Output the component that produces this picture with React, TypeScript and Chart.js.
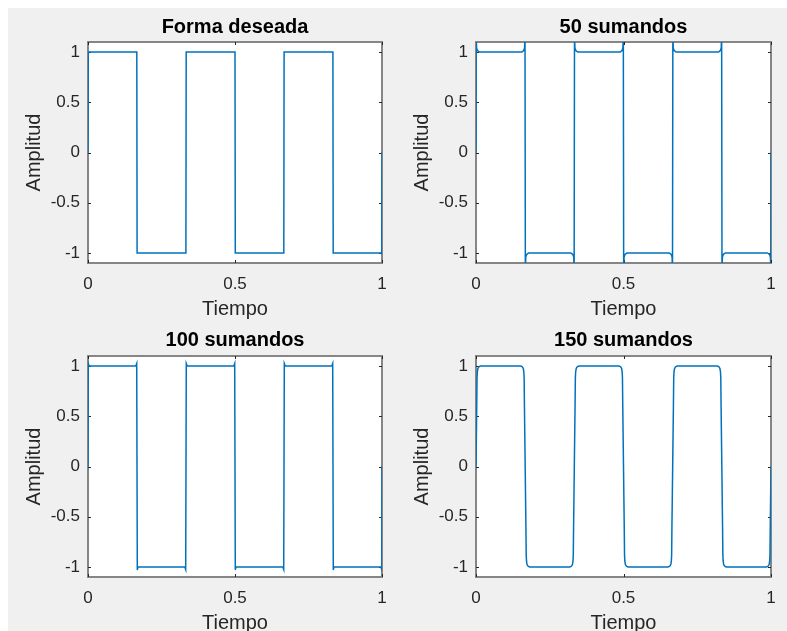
import React, { useEffect, useRef } from "react";
import Chart from "chart.js/auto";

// ---- data ----
const xTickValues = [0, 0.5, 1];
const xTickLabels = ["0", "0.5", "1"];
const yTickValues = [-1, -0.5, 0, 0.5, 1];
const yTickLabels = ["-1", "-0.5", "0", "0.5", "1"];

const titles = ["Forma deseada", "50 sumandos", "100 sumandos", "150 sumandos"];

// Forma deseada (ideal square wave)
const tDeseada = [0, 0.001, 0.166, 0.167, 0.333, 0.334, 0.5, 0.501, 0.666, 0.667, 0.833, 0.834, 0.999, 1];
const yDeseada = [0, 1, 1, -1, -1, 1, 1, -1, -1, 1, 1, -1, -1, 0];

// 50 sumandos (Gibbs overshoot reaching beyond the axis limits)
const t50 = [
  0, 0.0006, 0.002, 0.005, 0.012,
  0.1547, 0.1617, 0.1647, 0.1661, 0.1673, 0.1687, 0.1717, 0.1787,
  0.3213, 0.3283, 0.3313, 0.3327, 0.3339, 0.3353, 0.3383, 0.3453,
  0.488, 0.495, 0.498, 0.4994, 0.5006, 0.502, 0.505, 0.512,
  0.6547, 0.6617, 0.6647, 0.6661, 0.6673, 0.6687, 0.6717, 0.6787,
  0.8213, 0.8283, 0.8313, 0.8327, 0.8339, 0.8353, 0.8383, 0.8453,
  0.988, 0.995, 0.998, 0.9994, 1,
];
const y50 = [
  0, 1.18, 1.04, 1.015, 1.0,
  1.0, 1.015, 1.04, 1.18, -1.18, -1.04, -1.015, -1.0,
  -1.0, -1.015, -1.04, -1.18, 1.18, 1.04, 1.015, 1.0,
  1.0, 1.015, 1.04, 1.18, -1.18, -1.04, -1.015, -1.0,
  -1.0, -1.015, -1.04, -1.18, 1.18, 1.04, 1.015, 1.0,
  1.0, 1.015, 1.04, 1.18, -1.18, -1.04, -1.015, -1.0,
  -1.0, -1.015, -1.04, -1.18, 0,
];

// 100 sumandos (small spikes at the corners)
const t100 = [
  0, 0.001, 0.004,
  0.1627, 0.1657, 0.1677, 0.1707,
  0.3293, 0.3323, 0.3343, 0.3373,
  0.496, 0.499, 0.501, 0.504,
  0.6627, 0.6657, 0.6677, 0.6707,
  0.8293, 0.8323, 0.8343, 0.8373,
  0.996, 0.999, 1,
];
const y100 = [
  0, 1.025, 1.0,
  1.0, 1.025, -1.025, -1.0,
  -1.0, -1.025, 1.025, 1.0,
  1.0, 1.025, -1.025, -1.0,
  -1.0, -1.025, 1.025, 1.0,
  1.0, 1.025, -1.025, -1.0,
  -1.0, -1.025, 0,
];

// 150 sumandos (rounded corners)
const t150 = [
  0, 0.0025, 0.0035, 0.0045, 0.006, 0.008, 0.011, 0.016,
  0.1507, 0.1557, 0.1587, 0.1607, 0.1622, 0.1632, 0.1642, 0.1692, 0.1702, 0.1712, 0.1727, 0.1747, 0.1777, 0.1827,
  0.3173, 0.3223, 0.3253, 0.3273, 0.3288, 0.3298, 0.3308, 0.3358, 0.3368, 0.3378, 0.3393, 0.3413, 0.3443, 0.3493,
  0.484, 0.489, 0.492, 0.494, 0.4955, 0.4965, 0.4975, 0.5025, 0.5035, 0.5045, 0.506, 0.508, 0.511, 0.516,
  0.6507, 0.6557, 0.6587, 0.6607, 0.6622, 0.6632, 0.6642, 0.6692, 0.6702, 0.6712, 0.6727, 0.6747, 0.6777, 0.6827,
  0.8173, 0.8223, 0.8253, 0.8273, 0.8288, 0.8298, 0.8308, 0.8358, 0.8368, 0.8378, 0.8393, 0.8413, 0.8443, 0.8493,
  0.984, 0.989, 0.992, 0.994, 0.9955, 0.9965, 0.9975, 1,
];
const y150 = [
  0, 0.6, 0.88, 0.94, 0.97, 0.985, 0.995, 1,
  1, 0.995, 0.985, 0.97, 0.94, 0.88, 0.6, -0.6, -0.88, -0.94, -0.97, -0.985, -0.995, -1,
  -1, -0.995, -0.985, -0.97, -0.94, -0.88, -0.6, 0.6, 0.88, 0.94, 0.97, 0.985, 0.995, 1,
  1, 0.995, 0.985, 0.97, 0.94, 0.88, 0.6, -0.6, -0.88, -0.94, -0.97, -0.985, -0.995, -1,
  -1, -0.995, -0.985, -0.97, -0.94, -0.88, -0.6, 0.6, 0.88, 0.94, 0.97, 0.985, 0.995, 1,
  1, 0.995, 0.985, 0.97, 0.94, 0.88, 0.6, -0.6, -0.88, -0.94, -0.97, -0.985, -0.995, -1,
  -1, -0.995, -0.985, -0.97, -0.94, -0.88, -0.6, 0,
];

const seriesT = [tDeseada, t50, t100, t150];
const seriesY = [yDeseada, y50, y100, y150];

const FONT = "'Liberation Sans', Arial, Helvetica, sans-serif";
const LINE_COLOR = "#0072BD";

const boxPlugin = {
  id: "matlabBox",
  beforeDraw(chart: any) {
    const { ctx, chartArea } = chart;
    const { left, right, top, bottom } = chartArea;
    ctx.save();
    ctx.fillStyle = "#ffffff";
    ctx.fillRect(left, top, right - left, bottom - top);
    ctx.restore();
  },
  beforeDatasetsDraw(chart: any) {
    const { ctx, chartArea, scales } = chart;
    const { left, right, top, bottom } = chartArea;
    ctx.save();
    ctx.strokeStyle = "#868686";
    ctx.lineWidth = 2;
    ctx.strokeRect(left, top, right - left, bottom - top);
    ctx.strokeStyle = "#262626";
    ctx.lineWidth = 1;
    const tl = 3;
    ctx.beginPath();
    yTickValues.forEach((v) => {
      const py = Math.round(scales.y.getPixelForValue(v)) + 0.5;
      ctx.moveTo(left, py);
      ctx.lineTo(left + tl, py);
      ctx.moveTo(right, py);
      ctx.lineTo(right - tl, py);
    });
    xTickValues.forEach((v) => {
      const px = Math.round(scales.x.getPixelForValue(v)) + 0.5;
      ctx.moveTo(px, bottom);
      ctx.lineTo(px, bottom - tl);
      ctx.moveTo(px, top);
      ctx.lineTo(px, top + tl);
    });
    ctx.stroke();
    ctx.restore();
  },
};

type PanelProps = {
  idx: number;
  left: number;
  top: number;
  width: number;
  height: number;
  titlePad: { top: number; bottom: number };
};

function Panel({ idx, left, top, width, height, titlePad }: PanelProps) {
  const ref = useRef<HTMLCanvasElement | null>(null);
  useEffect(() => {
    if (!ref.current) return;
    const pts = seriesT[idx].map((t, i) => ({ x: t, y: seriesY[idx][i] }));
    const chart = new Chart(ref.current, {
      type: "line",
      data: {
        datasets: [
          {
            data: pts,
            borderColor: LINE_COLOR,
            borderWidth: 1.5,
            pointRadius: 0,
            tension: 0.00001,
            fill: false,
          },
        ],
      },
      options: {
        animation: false,
        responsive: false,
        maintainAspectRatio: false,
        devicePixelRatio: 1,
        events: [],
        layout: { padding: { left: 0, right: 16, top: 0, bottom: 0 } },
        plugins: {
          legend: { display: false },
          tooltip: { enabled: false },
          title: {
            display: true,
            text: titles[idx],
            fullSize: false,
            color: "#000000",
            font: { family: FONT, size: 20, weight: "bold", lineHeight: 1.2 },
            padding: titlePad,
          },
        },
        scales: {
          x: {
            type: "linear",
            min: 0,
            max: 1,
            afterBuildTicks: (s: any) => {
              s.ticks = xTickValues.map((v) => ({ value: v }));
            },
            afterFit: (s: any) => {
              s.height = 58;
            },
            grid: { display: false, drawTicks: false },
            border: { display: false },
            ticks: {
              padding: 11,
              color: "#262626",
              maxRotation: 0,
              autoSkip: false,
              font: { family: FONT, size: 17, lineHeight: 1.2 },
              callback: (v: any) => {
                const i = xTickValues.indexOf(Number(v));
                return i >= 0 ? xTickLabels[i] : "";
              },
            },
            title: {
              display: true,
              text: "Tiempo",
              color: "#262626",
              font: { family: FONT, size: 20, lineHeight: 1.2 },
              padding: { top: 0, bottom: 0 },
            },
          },
          y: {
            type: "linear",
            min: -1.1,
            max: 1.1,
            afterBuildTicks: (s: any) => {
              s.ticks = yTickValues.map((v) => ({ value: v }));
            },
            afterFit: (s: any) => {
              s.width = 80;
            },
            grid: { display: false, drawTicks: false },
            border: { display: false },
            ticks: {
              padding: 8,
              color: "#262626",
              autoSkip: false,
              font: { family: FONT, size: 17, lineHeight: 1.2 },
              callback: (v: any) => {
                const i = yTickValues.indexOf(Number(v));
                return i >= 0 ? yTickLabels[i] : "";
              },
            },
            title: {
              display: true,
              text: "Amplitud",
              color: "#262626",
              font: { family: FONT, size: 20, lineHeight: 1.2 },
              padding: { top: 14.5, bottom: 0 },
            },
          },
        },
      } as any,
      plugins: [boxPlugin],
    });
    return () => chart.destroy();
  }, [idx]);

  return (
    <canvas
      ref={ref}
      width={width}
      height={height}
      style={{ position: "absolute", left, top, width, height, display: "block" }}
    />
  );
}

export default function App() {
  const topPad = { top: 7, bottom: 3 };
  const botPad = { top: 6, bottom: 4 };
  return (
    <div
      style={{
        position: "fixed",
        left: 8,
        top: 8,
        width: 779,
        height: 623,
        overflow: "hidden",
        background: "#f0f0f0",
      }}
    >
      <Panel idx={0} left={0} top={0} width={390} height={313} titlePad={topPad} />
      <Panel idx={1} left={388} top={0} width={391} height={313} titlePad={topPad} />
      <Panel idx={2} left={0} top={314} width={390} height={313} titlePad={botPad} />
      <Panel idx={3} left={388} top={314} width={391} height={313} titlePad={botPad} />
    </div>
  );
}
